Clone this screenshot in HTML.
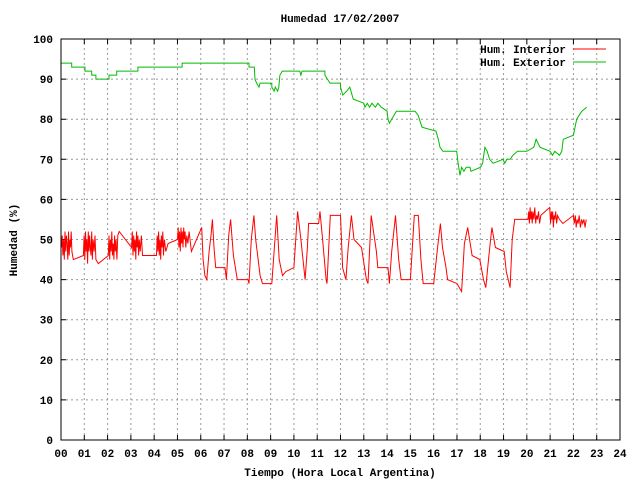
<!DOCTYPE html>
<html><head><meta charset="utf-8"><style>
body{margin:0;background:#fff}
svg text{font-family:"Liberation Mono",monospace;font-weight:bold;font-size:11px;fill:#000}
</style></head><body>
<svg id="c" width="640" height="480" xmlns="http://www.w3.org/2000/svg">
<text x="340" y="22" text-anchor="middle">Humedad 17/02/2007</text>
<text x="340" y="476" text-anchor="middle">Tiempo (Hora Local Argentina)</text>
<text x="17" y="240" text-anchor="middle" transform="rotate(-90 17 240)">Humedad (%)</text>
<g id="grid"></g><g id="ticks"></g><g id="series"></g>
<rect x="61" y="39" width="559" height="401" fill="none" stroke="#000"/>
<g>
<text x="566" y="53" text-anchor="end">Hum. Interior</text>
<line x1="573" y1="49" x2="606" y2="49" stroke="#f00"/>
<text x="566" y="66" text-anchor="end">Hum. Exterior</text>
<line x1="573" y1="62" x2="606" y2="62" stroke="#0b0"/>
</g>
</svg>
<script>
const xTicks=["00","01","02","03","04","05","06","07","08","09","10","11","12","13","14","15","16","17","18","19","20","21","22","23","24"];
const yTicks=[0,10,20,30,40,50,60,70,80,90,100];
const exterior=[[0,94],[0.46,94],[0.46,93],[1.03,93],[1.03,92],[1.32,92],[1.32,91],[1.5,91],[1.5,90],[2.06,90],[2.06,91],[2.39,91],[2.39,92],[3.3,92],[3.3,93],[5.2,93],[5.2,94],[8.07,94],[8.07,93],[8.3,93],[8.33,90],[8.4,89],[8.5,88],[8.55,89],[9.05,89],[9.05,88],[9.15,87],[9.2,88],[9.3,87],[9.35,88],[9.4,91],[9.5,92],[10.25,92],[10.3,91],[10.35,92],[11.33,92],[11.33,91],[11.55,89],[12.0,89],[12.0,88],[12.1,86],[12.27,87],[12.4,88],[12.5,86],[12.55,85],[13.0,84],[13.05,83],[13.15,84],[13.25,83],[13.35,84],[13.5,83],[13.6,84],[13.75,83],[14.0,82],[14.04,80],[14.1,79],[14.2,80],[14.4,82],[15.2,82],[15.33,81],[15.5,78],[16.1,77],[16.2,75],[16.27,73],[16.4,72],[16.99,72],[17.05,69],[17.13,66],[17.2,68],[17.3,67],[17.4,68],[17.56,68],[17.6,67],[18.0,68],[18.1,69],[18.2,73],[18.3,72],[18.4,70],[18.55,69],[18.98,70],[19.05,69],[19.15,70],[19.28,70],[19.4,71],[19.6,72],[20.0,72],[20.3,73],[20.4,75],[20.57,73],[21.0,72],[21.1,71],[21.2,72],[21.4,71],[21.5,72],[21.56,75],[22.0,76],[22.14,80],[22.25,81],[22.36,82],[22.57,83]];
const interior=[[0.02,48],[0.05,51],[0.08,46],[0.11,50],[0.14,45],[0.17,52],[0.2,47],[0.23,51],[0.26,49],[0.29,45],[0.32,52],[0.35,46],[0.38,50],[0.41,48],[0.44,52],[0.47,47],[0.53,45],[0.96,46],[0.99,51],[1.02,45],[1.05,52],[1.08,47],[1.11,50],[1.14,44],[1.17,52],[1.2,47],[1.23,51],[1.26,48],[1.29,46],[1.32,52],[1.35,45],[1.38,50],[1.42,47],[1.46,51],[1.5,45],[1.6,44],[2.03,46],[2.06,51],[2.09,45],[2.12,50],[2.15,47],[2.18,52],[2.21,46],[2.24,49],[2.27,45],[2.3,51],[2.33,47],[2.36,50],[2.4,45],[2.44,51],[2.5,52],[3.03,48],[3.06,52],[3.09,46],[3.12,51],[3.15,47],[3.18,50],[3.21,45],[3.24,52],[3.27,48],[3.3,51],[3.33,46],[3.36,50],[3.4,47],[3.45,51],[3.5,46],[4.1,46],[4.13,51],[4.16,47],[4.19,52],[4.22,46],[4.25,50],[4.28,45],[4.31,51],[4.34,48],[4.37,52],[4.4,46],[4.44,50],[4.5,47],[4.6,49],[5.0,50],[5.03,53],[5.06,48],[5.09,52],[5.12,47],[5.15,53],[5.18,49],[5.21,52],[5.24,48],[5.27,53],[5.3,50],[5.33,52],[5.36,48],[5.4,51],[5.45,49],[5.5,52],[5.6,47],[6.04,53],[6.1,45],[6.18,41],[6.26,40],[6.36,47],[6.44,51],[6.5,55],[6.57,48],[6.64,43],[7.04,43],[7.1,40],[7.2,51],[7.28,55],[7.4,46],[7.57,40],[8.03,40],[8.07,39],[8.17,50],[8.28,56],[8.36,50],[8.55,41],[8.65,39],[9.05,39],[9.15,47],[9.26,56],[9.37,45],[9.51,41],[9.65,42],[10.0,43],[10.16,57],[10.3,50],[10.48,40],[10.58,48],[10.63,54],[11.06,54],[11.12,57],[11.23,50],[11.38,40],[11.42,39],[11.56,56],[12.0,56],[12.09,43],[12.23,40],[12.33,48],[12.47,56],[12.58,50],[12.9,48],[13.11,40],[13.18,39],[13.32,56],[13.54,47],[13.6,43],[14.04,43],[14.1,39],[14.2,47],[14.36,56],[14.5,45],[14.6,40],[15.0,40],[15.17,56],[15.34,56],[15.45,45],[15.55,39],[16.0,39],[16.17,48],[16.29,54],[16.38,48],[16.53,43],[16.6,40],[17.0,39],[17.2,37],[17.32,49],[17.46,53],[17.65,46],[17.98,45],[18.14,40],[18.24,38],[18.37,46],[18.5,53],[18.65,48],[19.03,47],[19.12,42],[19.28,38],[19.37,50],[19.48,55],[19.62,55],[20.05,55],[20.08,57],[20.11,54],[20.14,58],[20.17,55],[20.2,57],[20.23,54],[20.26,57],[20.3,55],[20.34,58],[20.38,54],[20.42,56],[20.46,55],[20.5,57],[20.55,54],[20.6,56],[20.98,58],[21.02,54],[21.05,57],[21.08,55],[21.11,57],[21.14,53],[21.17,56],[21.2,55],[21.24,57],[21.28,54],[21.32,56],[21.4,55],[21.55,54],[22.0,56],[22.04,54],[22.08,56],[22.12,53],[22.16,55],[22.2,54],[22.25,56],[22.3,53],[22.35,55],[22.4,54],[22.45,55],[22.5,53],[22.55,55]];
const NS="http://www.w3.org/2000/svg";
const X0=61,X1=620,Y0=440,Y1=39;
function xs(h){return X0+(X1-X0)*h/24;}
function ys(v){return Y0-(Y0-Y1)*v/100;}
function mk(t,a,p){const e=document.createElementNS(NS,t);for(const k in a)e.setAttribute(k,a[k]);p.appendChild(e);return e;}
const grid=document.getElementById('grid'),ticks=document.getElementById('ticks'),series=document.getElementById('series');
xTicks.forEach((t,i)=>{const x=xs(i);
 if(i>0&&i<24){const g=mk('line',{x1:x,y1:Y0,x2:x,y2:Y1,stroke:'#999','stroke-dasharray':'2,3'},grid);
 
 }
 const tk=mk('path',{d:`M${x} ${Y0}v-5M${x} ${Y1}v5`,stroke:'#000'},ticks);
 
 
 const l=mk('text',{x:x,y:457,'text-anchor':'middle'},ticks);l.textContent=t;
 
 });
yTicks.forEach(v=>{const y=ys(v);
 if(v>0&&v<100){const g=mk('line',{x1:X0,y1:y,x2:X1,y2:y,stroke:'#999','stroke-dasharray':'2,3'},grid);
 
 }
 const tk=mk('path',{d:`M${X0} ${y}h5M${X1} ${y}h-5`,stroke:'#000'},ticks);
 
 
 const l=mk('text',{x:53,y:y+4,'text-anchor':'end'},ticks);l.textContent=v;
 
 });
function line(d,c,n){const p=mk('polyline',{points:d.map(q=>xs(q[0]).toFixed(1)+','+ys(q[1]).toFixed(1)).join(' '),fill:'none',stroke:c,'stroke-width':1},series);
 
 }
line(exterior,'#0b0','exterior-humidity-line');
line(interior,'#f00','interior-humidity-line');
</script>
</body></html>
